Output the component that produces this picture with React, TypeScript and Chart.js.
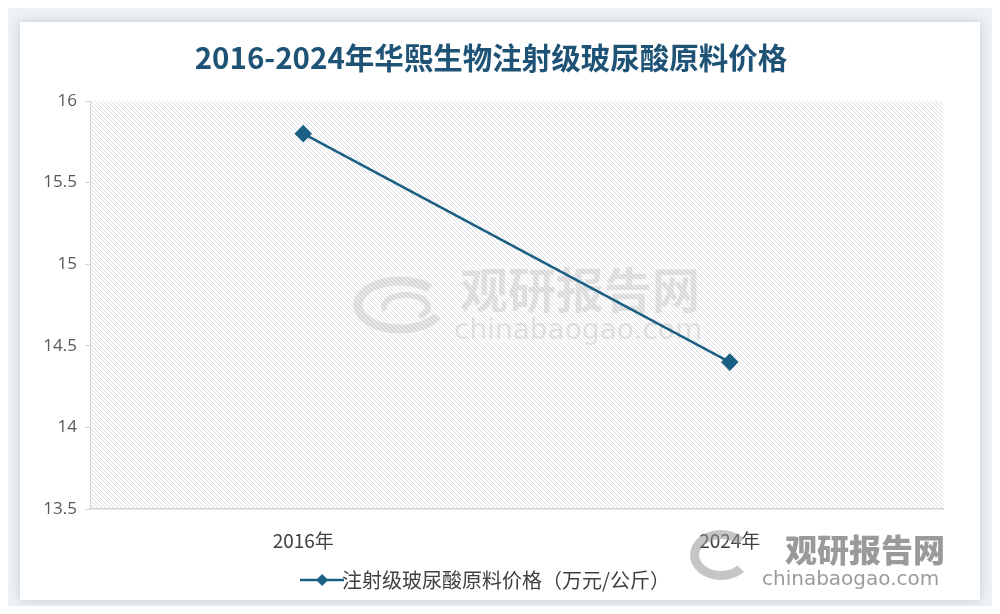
import React, { useEffect, useRef } from "react";
import { Chart, registerables } from "chart.js";

Chart.register(...registerables);

const title = "2016-2024年华熙生物注射级玻尿酸原料价格";
const categories = ["2016年", "2024年"];
const seriesName = "注射级玻尿酸原料价格（万元/公斤）";
const seriesValues = [15.8, 14.4];
const yMin = 13.5;
const yMax = 16;
const yStep = 0.5;

const LINE_COLOR = "#1c5f84";

function makeHatch(): CanvasPattern | string {
  const t = document.createElement("canvas");
  t.width = 4;
  t.height = 4;
  const c = t.getContext("2d");
  if (!c) return "#f4f4f5";
  c.fillStyle = "#ffffff";
  c.fillRect(0, 0, 4, 4);
  c.fillStyle = "#d9dbde";
  for (let i = 0; i < 4; i++) c.fillRect(i, i, 1, 1);
  const p = c.createPattern(t, "repeat");
  return p || "#f4f4f5";
}

function makeLegendIcon(): HTMLCanvasElement {
  const w = 44;
  const h = 16;
  const cv = document.createElement("canvas");
  cv.width = w;
  cv.height = h;
  const c = cv.getContext("2d")!;
  c.strokeStyle = LINE_COLOR;
  c.lineWidth = 2.5;
  c.beginPath();
  c.moveTo(0, h / 2);
  c.lineTo(w, h / 2);
  c.stroke();
  c.fillStyle = LINE_COLOR;
  c.beginPath();
  c.moveTo(w / 2, h / 2 - 6);
  c.lineTo(w / 2 + 6, h / 2);
  c.lineTo(w / 2, h / 2 + 6);
  c.lineTo(w / 2 - 6, h / 2);
  c.closePath();
  c.fill();
  return cv;
}

const hatchPlugin = {
  id: "hatchBg",
  beforeDraw(chart: any) {
    const { ctx, chartArea } = chart;
    if (!chartArea) return;
    ctx.save();
    ctx.fillStyle = makeHatch();
    ctx.fillRect(chartArea.left, chartArea.top, chartArea.right - chartArea.left, chartArea.bottom - chartArea.top);
    ctx.restore();
  },
  beforeDatasetsDraw(chart: any) {
    const { ctx, chartArea } = chart;
    if (!chartArea) return;
    ctx.save();
    ctx.globalAlpha = 0.22;
    ctx.fillStyle = "#8c8c8c";
    ctx.strokeStyle = "#8c8c8c";
    const cx = 380;
    const cy = 283;
    ctx.lineWidth = 9;
    ctx.beginPath();
    ctx.ellipse(cx, cy, 42, 24, 0, Math.PI * 0.15, Math.PI * 1.75);
    ctx.stroke();
    ctx.lineWidth = 6;
    ctx.beginPath();
    ctx.ellipse(cx + 6, cy + 2, 22, 12, 0, Math.PI * 0.9, Math.PI * 2.3);
    ctx.stroke();
    ctx.font = "bold 48px 'Noto Sans CJK SC'";
    ctx.textAlign = "left";
    ctx.textBaseline = "middle";
    ctx.fillText("观研报告网", 440, 268);
    ctx.font = "28px 'DejaVu Sans'";
    ctx.fillText("chinabaogao.com", 434, 310);
    ctx.restore();
  },
};

export default function App() {
  const ref = useRef<HTMLCanvasElement | null>(null);

  useEffect(() => {
    if (!ref.current) return;
    const icon = makeLegendIcon();
    const chart = new Chart(ref.current, {
      type: "line",
      data: {
        labels: categories,
        datasets: [
          {
            label: seriesName,
            data: seriesValues,
            borderColor: LINE_COLOR,
            backgroundColor: LINE_COLOR,
            borderWidth: 2.5,
            pointStyle: "rectRot",
            pointRadius: 7,
            pointHoverRadius: 7,
            pointBackgroundColor: LINE_COLOR,
            pointBorderColor: LINE_COLOR,
            tension: 0,
          },
        ],
      },
      options: {
        animation: false,
        responsive: false,
        maintainAspectRatio: false,
        layout: { padding: { left: 0, right: 18, top: 0, bottom: 0 } },
        plugins: {
          title: {
            display: true,
            text: title,
            color: "#1f5376",
            font: { family: "'Noto Sans CJK SC'", size: 29.5, weight: "bold" },
            padding: { top: 18, bottom: 25.6 },
          },
          legend: {
            display: true,
            position: "bottom",
            labels: {
              usePointStyle: true,
              color: "#404040",
              font: { family: "'Noto Sans CJK SC'", size: 20 },
              padding: 14,
              generateLabels: (ch: any) => {
                const items = Chart.defaults.plugins.legend.labels.generateLabels(ch);
                return items.map((it: any) => ({ ...it, pointStyle: icon }));
              },
            },
          },
          tooltip: { enabled: false },
        },
        scales: {
          x: {
            offset: true,
            afterFit: (s: any) => {
              s.height = 47;
            },
            grid: { display: false, drawTicks: false },
            border: { display: true, color: "#d0d4d8", width: 1.5 },
            ticks: {
              color: "#404040",
              font: { family: "'Noto Sans CJK SC'", size: 19 },
              padding: 20,
            },
          },
          y: {
            min: yMin,
            max: yMax,
            afterFit: (s: any) => {
              s.width = 70;
            },
            grid: { drawOnChartArea: false, drawTicks: true, tickLength: 5, color: "#d0d4d8" },
            border: { display: true, color: "#d0d4d8", width: 1 },
            ticks: {
              stepSize: yStep,
              color: "#595959",
              font: { family: "'Open Sans'", size: 17 },
              padding: 8,
              callback: (v: any) => String(v),
            },
          },
          yPad: {
            type: "linear",
            position: "right",
            display: true,
            afterFit: (s: any) => {
              s.width = 19;
            },
            grid: { display: false, drawTicks: false },
            border: { display: false },
            ticks: { display: false },
          },
        },
      },
      plugins: [hatchPlugin],
    });
    return () => chart.destroy();
  }, []);

  return (
    <div style={{ position: "relative", width: 1000, height: 614, margin: -8, background: "#eef2f5", overflow: "hidden" }}>
      <div
        style={{
          position: "absolute",
          left: 20,
          top: 22,
          width: 960,
          height: 578,
          background: "#ffffff",
          boxShadow: "0 0 10px rgba(120,130,140,0.35)",
        }}
      >
        <canvas ref={ref} width={960} height={578} style={{ display: "block" }} />
        <div
          style={{
            position: "absolute",
            left: 670,
            top: 500,
            width: 280,
            height: 75,
            pointerEvents: "none",
            fontFamily: "'Noto Sans CJK SC'",
          }}
        >
          <div style={{ position: "absolute", left: 0, top: 8, width: 62, height: 50, borderRadius: "50%", border: "9px solid rgba(150,150,150,0.55)", borderRightColor: "transparent", boxSizing: "border-box" }} />
          <div style={{ position: "absolute", left: 95, top: 6, fontSize: 32, fontWeight: 900, color: "rgba(120,120,120,0.75)", lineHeight: "40px" }}>观研报告网</div>
          <div style={{ position: "absolute", left: 72, top: 43, fontSize: 20, color: "rgba(120,120,120,0.75)", lineHeight: "26px", fontFamily: "'DejaVu Sans'" }}>chinabaogao.com</div>
        </div>
      </div>
    </div>
  );
}
